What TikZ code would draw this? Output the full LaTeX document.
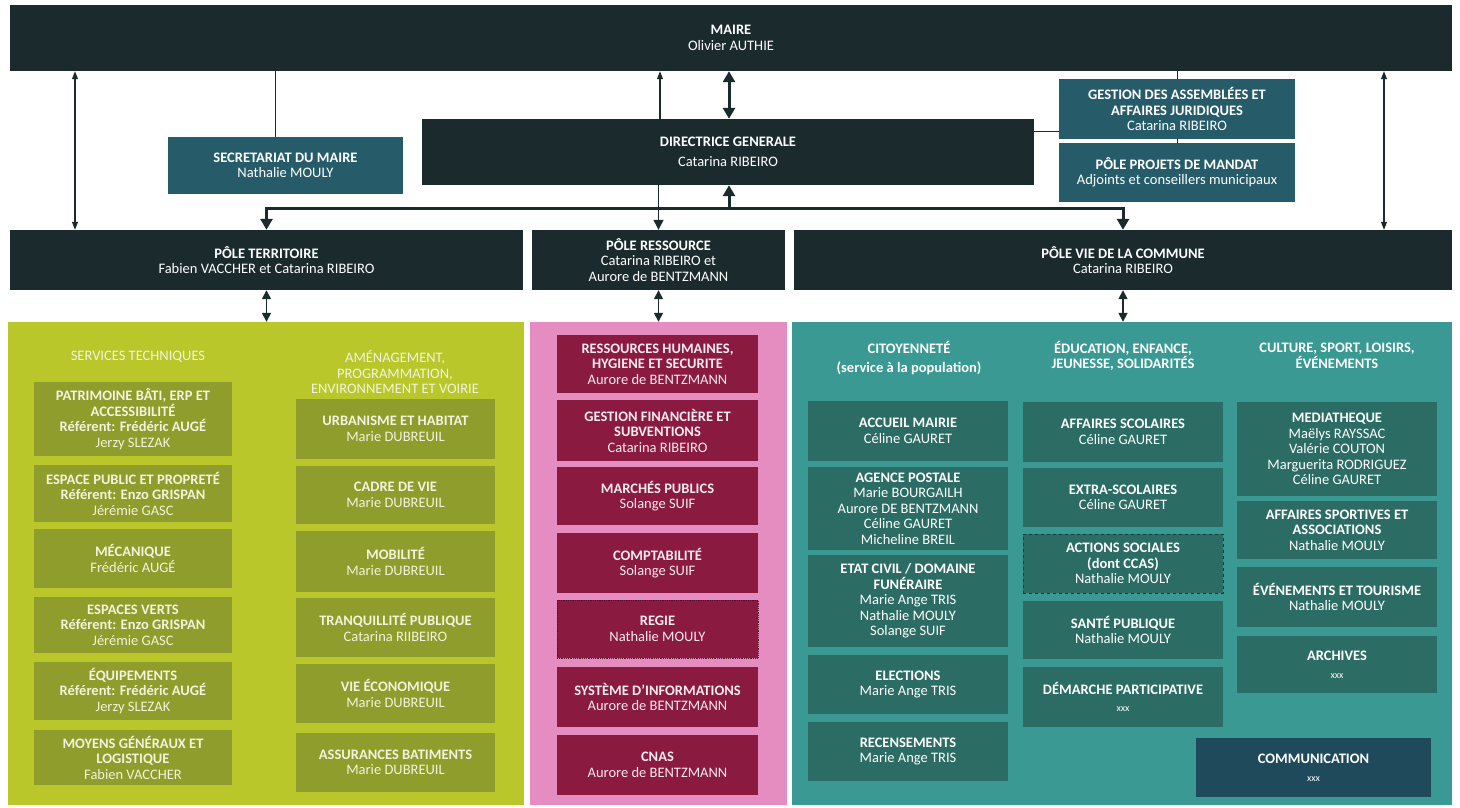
\documentclass[tikz,border=0pt]{standalone}
\usepackage{fontspec}
\setmainfont{Carlito}
\usetikzlibrary{arrows.meta}
\definecolor{dk}{HTML}{1B2A2D}
\definecolor{tealb}{HTML}{265C6A}
\definecolor{commb}{HTML}{1F4A5C}
\definecolor{gpanel}{HTML}{B9C72B}
\definecolor{gbox}{HTML}{8E9D2C}
\definecolor{ppanel}{HTML}{E58DC1}
\definecolor{pbox}{HTML}{8A1A3F}
\definecolor{tpanel}{HTML}{3A9A93}
\definecolor{tbox}{HTML}{2B6C64}
\definecolor{gtext}{HTML}{F2F3DC}
\definecolor{ptext}{HTML}{F8ECF1}
\newcommand\pname[1]{{\mdseries #1}}
\tikzset{
  sz/.style 2 args={minimum width=#1pt, minimum height=#2pt},
  basebox/.style={rectangle, inner sep=0pt, align=center, text=white,
    font=\fontsize{14.5}{15.5}\selectfont\bfseries},
  darkbox/.style={basebox, fill=dk},
  tealbox/.style={basebox, fill=tealb},
  commbox/.style={basebox, fill=commb},
  olivebox/.style={basebox, fill=gbox, text=gtext},
  crimbox/.style={basebox, fill=pbox, text=ptext},
  tgbox/.style={basebox, fill=tbox},
  panel/.style={rectangle, inner sep=0pt},
  hdr/.style={align=center, inner sep=0pt, font=\fontsize{14.5}{15.5}\selectfont},
  hdrb/.style={hdr, text=white, font=\fontsize{14.5}{15.5}\selectfont\bfseries},
  conn/.style={draw=dk, line width=0.8pt},
  thinarr/.style={draw=dk, line width=1.1pt, >={Triangle[length=8pt,width=6pt]}},
  midarr/.style={draw=dk, line width=1.6pt, >={Triangle[length=9pt,width=9pt]}},
  thickarr/.style={draw=dk, line width=3pt, >={Triangle[length=11pt,width=12pt]}},
}
\begin{document}
\begin{tikzpicture}[x=1pt,y=-1pt]
\fill[white] (0,0) rectangle (1460,807);
\useasboundingbox (0,0) rectangle (1460,807);

% ---------- top level ----------
\node[darkbox,sz={1442}{66}] (maire) at (731,38) {MAIRE\\\pname{Olivier AUTHIE}};
\node[tealbox,sz={235}{57}] (secr) at (285.5,165.5) {SECRETARIAT DU MAIRE\\\pname{Nathalie MOULY}};
\node[darkbox,sz={612}{66}] (dg) at (728,152) {DIRECTRICE GENERALE\\[4.5pt]\pname{Catarina RIBEIRO}};
\node[tealbox,sz={236}{60}] (gest) at (1177,109) {GESTION DES ASSEMBLÉES ET\\AFFAIRES JURIDIQUES\\\pname{Catarina RIBEIRO}};
\node[tealbox,sz={236}{59}] (proj) at (1177,172.5) {PÔLE PROJETS DE MANDAT\\\pname{Adjoints et conseillers municipaux}};

\node[darkbox,sz={513}{60}] (pterr) at (266.5,260) {PÔLE TERRITOIRE\\\pname{Fabien VACCHER et Catarina RIBEIRO}};
\node[darkbox,sz={253}{60}] (pres) at (658.5,260) {PÔLE RESSOURCE\\\pname{Catarina RIBEIRO et}\\\pname{Aurore de BENTZMANN}};
\node[darkbox,sz={658}{60}] (pvie) at (1123,260) {PÔLE VIE DE LA COMMUNE\\\pname{Catarina RIBEIRO}};

% ---------- panels ----------
\node[panel,fill=gpanel,sz={516}{483}] (gpan) at (266,563.5) {};
\node[panel,fill=ppanel,sz={257}{483}] (ppan) at (658.5,563.5) {};
\node[panel,fill=tpanel,sz={660}{483}] (tpan) at (1122,563.5) {};

% ---------- connectors top ----------
\coordinate (cl) at (75,0);
\coordinate (cr) at (1384,0);
\coordinate (cs) at (275,0);
\coordinate (cm) at (660,0);
\coordinate (cc) at (729,0);
\coordinate (cg) at (0,131);
\coordinate (bus) at (729,208);

\draw[thinarr,<->] (maire.south -| cl) -- (pterr.north -| cl);
\draw[thinarr,<->] (maire.south -| cr) -- (pvie.north -| cr);
\draw[conn] (maire.south -| cs) -- (secr.north -| cs);
\draw[thinarr,->] (dg.north -| cm) -- (maire.south -| cm);
\draw[thickarr,<->] (maire.south -| cc) -- (dg.north -| cc);
\draw[conn] (maire.south -| gest.north) -- (gest.north);
\draw[conn] (gest.south) -- (proj.north);
\draw[conn] (dg.east |- cg) -- (gest.west |- cg);
\draw[thickarr,<->] (pterr.north) |- (bus) -| (pvie.north);
\draw[thickarr,->] (bus) -- (dg.south -| bus);
\draw[thinarr,line width=1.3pt,>={Triangle[length=10pt,width=10pt]},->] (dg.south -| pres.north) -- (pres.north);

\draw[midarr,<->] (pterr.south) -- (gpan.north -| pterr.south);
\draw[midarr,<->] (pres.south) -- (ppan.north -| pres.south);
\draw[midarr,<->] (pvie.south) -- (tpan.north -| pvie.south);

% ---------- green panel ----------
\node[hdr,text=gtext] (h1) at (138,357) {SERVICES TECHNIQUES};
\node[hdr,text=gtext] (h2) at (395,372) {AMÉNAGEMENT,\\PROGRAMMATION,\\ENVIRONNEMENT ET VOIRIE};

\node[olivebox,sz={198}{74}] (g1) at (133,419) {PATRIMOINE BÂTI, ERP ET\\ACCESSIBILITÉ\\Référent: Frédéric AUGÉ\\\pname{Jerzy SLEZAK}};
\node[olivebox,sz={198}{57}] (g2) at (133,493.5) {ESPACE PUBLIC ET PROPRETÉ\\Référent: Enzo GRISPAN\\\pname{Jérémie GASC}};
\node[olivebox,sz={198}{59}] (g3) at (133,558.5) {MÉCANIQUE\\\pname{Frédéric AUGÉ}};
\node[olivebox,sz={198}{56}] (g4) at (133,625) {ESPACES VERTS\\Référent: Enzo GRISPAN\\\pname{Jérémie GASC}};
\node[olivebox,sz={198}{58}] (g5) at (133,691) {ÉQUIPEMENTS\\Référent: Frédéric AUGÉ\\\pname{Jerzy SLEZAK}};
\node[olivebox,sz={198}{55}] (g6) at (133,757.5) {MOYENS GÉNÉRAUX ET\\LOGISTIQUE\\\pname{Fabien VACCHER}};

\node[olivebox,sz={199}{60}] (a1) at (395.5,429) {URBANISME ET HABITAT\\\pname{Marie DUBREUIL}};
\node[olivebox,sz={199}{58}] (a2) at (395.5,495) {CADRE DE VIE\\\pname{Marie DUBREUIL}};
\node[olivebox,sz={199}{61}] (a3) at (395.5,561.5) {MOBILITÉ\\\pname{Marie DUBREUIL}};
\node[olivebox,sz={199}{59}] (a4) at (395.5,627.5) {TRANQUILLITÉ PUBLIQUE\\\pname{Catarina RIIBEIRO}};
\node[olivebox,sz={199}{59}] (a5) at (395.5,693.5) {VIE ÉCONOMIQUE\\\pname{Marie DUBREUIL}};
\node[olivebox,sz={199}{59}] (a6) at (395.5,762.5) {ASSURANCES BATIMENTS\\\pname{Marie DUBREUIL}};

% ---------- pink panel ----------
\node[crimbox,sz={201}{58}] (p1) at (657.5,364) {RESSOURCES HUMAINES,\\HYGIENE ET SECURITE\\\pname{Aurore de BENTZMANN}};
\node[crimbox,sz={201}{61}] (p2) at (657.5,430.5) {GESTION FINANCIÈRE ET\\SUBVENTIONS\\\pname{Catarina RIBEIRO}};
\node[crimbox,sz={201}{58}] (p3) at (657.5,496) {MARCHÉS PUBLICS\\\pname{Solange SUIF}};
\node[crimbox,sz={201}{60}] (p4) at (657.5,563) {COMPTABILITÉ\\\pname{Solange SUIF}};
\node[crimbox,sz={201}{58},draw=pbox!60!black,densely dotted,line width=0.8pt] (p5) at (657.5,629) {REGIE\\\pname{Nathalie MOULY}};
\node[crimbox,sz={201}{60}] (p6) at (657.5,697) {SYSTÈME D’INFORMATIONS\\\pname{Aurore de BENTZMANN}};
\node[crimbox,sz={201}{60}] (p7) at (657.5,765) {CNAS\\\pname{Aurore de BENTZMANN}};

% ---------- teal panel ----------
\node[hdrb] (t1h) at (909,358) {CITOYENNETÉ\\[3pt](service à la population)};
\node[hdrb] (t2h) at (1123,356) {ÉDUCATION, ENFANCE,\\JEUNESSE, SOLIDARITÉS};
\node[hdrb] (t3h) at (1337,356) {CULTURE, SPORT, LOISIRS,\\ÉVÉNEMENTS};

\node[tgbox,sz={200}{60}] (c1) at (908,431) {ACCUEIL MAIRIE\\\pname{Céline GAURET}};
\node[tgbox,sz={200}{83}] (c2) at (908,508.5) {AGENCE POSTALE\\\pname{Marie BOURGAILH}\\\pname{Aurore DE BENTZMANN}\\\pname{Céline GAURET}\\\pname{Micheline BREIL}};
\node[tgbox,sz={200}{92}] (c3) at (908,601) {ETAT CIVIL / DOMAINE\\FUNÉRAIRE\\\pname{Marie Ange TRIS}\\\pname{Nathalie MOULY}\\\pname{Solange SUIF}};
\node[tgbox,sz={200}{59}] (c4) at (908,684.5) {ELECTIONS\\\pname{Marie Ange TRIS}};
\node[tgbox,sz={200}{59}] (c5) at (908,751.5) {RECENSEMENTS\\\pname{Marie Ange TRIS}};

\node[tgbox,sz={200}{60}] (e1) at (1123,432) {AFFAIRES SCOLAIRES\\\pname{Céline GAURET}};
\node[tgbox,sz={200}{59}] (e2) at (1123,497.5) {EXTRA-SCOLAIRES\\\pname{Céline GAURET}};
\node[tgbox,sz={200}{59},draw=tbox!55!black,dashed,line width=0.8pt] (e3) at (1123,563.5) {ACTIONS SOCIALES\\(dont CCAS)\\\pname{Nathalie MOULY}};
\node[tgbox,sz={200}{58}] (e4) at (1123,630) {SANTÉ PUBLIQUE\\\pname{Nathalie MOULY}};
\node[tgbox,sz={200}{60}] (e5) at (1123,697) {DÉMARCHE PARTICIPATIVE\\[2pt]{\mdseries\fontsize{10}{11}\selectfont xxx}};

\node[tgbox,sz={200}{94}] (s1) at (1337,449) {MEDIATHEQUE\\\pname{Maëlys RAYSSAC}\\\pname{Valérie COUTON}\\\pname{Marguerita RODRIGUEZ}\\\pname{Céline GAURET}};
\node[tgbox,sz={200}{58}] (s2) at (1337,530) {AFFAIRES SPORTIVES ET\\ASSOCIATIONS\\\pname{Nathalie MOULY}};
\node[tgbox,sz={200}{60}] (s3) at (1337,597) {ÉVÉNEMENTS ET TOURISME\\\pname{Nathalie MOULY}};
\node[tgbox,sz={200}{57}] (s4) at (1337,664.5) {ARCHIVES\\[2pt]{\mdseries\fontsize{10}{11}\selectfont xxx}};

\node[commbox,sz={235}{59}] (comm) at (1313.5,767.5) {COMMUNICATION\\[2pt]{\mdseries\fontsize{10}{11}\selectfont xxx}};
\end{tikzpicture}
\end{document}
